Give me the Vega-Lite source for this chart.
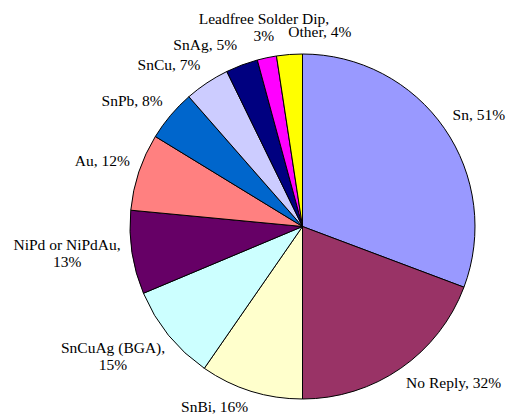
{
  "$schema": "https://vega.github.io/schema/vega-lite/v6.json",
  "width": 407,
  "height": 385,
  "autosize": {"type": "none"},
  "padding": {"left": 99, "top": 34, "right": 0, "bottom": 0},
  "background": "white",
  "data": {
    "values": [
      {"name": "Sn", "value": 51, "label": "Sn, 51%"},
      {"name": "No Reply", "value": 32, "label": "No Reply, 32%"},
      {"name": "SnBi", "value": 16, "label": "SnBi, 16%"},
      {"name": "SnCuAg (BGA)", "value": 15, "label": "SnCuAg (BGA),\n15%"},
      {"name": "NiPd or NiPdAu", "value": 13, "label": "NiPd or NiPdAu,\n13%"},
      {"name": "Au", "value": 12, "label": "Au, 12%"},
      {"name": "SnPb", "value": 8, "label": "SnPb, 8%"},
      {"name": "SnCu", "value": 7, "label": "SnCu, 7%"},
      {"name": "SnAg", "value": 5, "label": "SnAg, 5%"},
      {"name": "Leadfree Solder Dip", "value": 3, "label": "Leadfree Solder Dip,\n3%"},
      {"name": "Other", "value": 4, "label": "Other, 4%"}
    ]
  },
  "transform": [
    {"window": [{"op": "row_number", "as": "idx"}]},
    {"stack": "value", "groupby": [], "sort": [{"field": "idx", "order": "ascending"}], "as": ["v0", "v1"]},
    {"joinaggregate": [{"op": "sum", "field": "value", "as": "total"}]},
    {"calculate": "(datum.v0 + datum.v1) / 2", "as": "mid"},
    {"calculate": "2 * PI * datum.mid / datum.total", "as": "ang"},
    {"calculate": "indexof(datum.label, '\\n')", "as": "brk"}
  ],
  "layer": [
    {
      "mark": {"type": "arc", "outerRadius": 172.5, "stroke": "black", "strokeWidth": 1},
      "encoding": {
        "theta": {"field": "value", "type": "quantitative", "stack": true},
        "order": {"field": "idx", "type": "quantitative"},
        "color": {
          "field": "name",
          "type": "nominal",
          "legend": null,
          "scale": {
            "domain": ["Sn", "No Reply", "SnBi", "SnCuAg (BGA)", "NiPd or NiPdAu", "Au", "SnPb", "SnCu", "SnAg", "Leadfree Solder Dip", "Other"],
            "range": ["#9999FF", "#993366", "#FFFFCC", "#CCFFFF", "#660066", "#FF8080", "#0066CC", "#CCCCFF", "#000080", "#FF00FF", "#FFFF00"]
          }
        }
      }
    },
    {
      "mark": {
        "type": "text",
        "radius": {"expr": "182 + 5 * pow(max(0, cos(datum.ang)), 4)"},
        "font": "'Liberation Serif', 'Times New Roman', serif",
        "fontSize": 15.5,
        "lineHeight": 17,
        "lineBreak": "\n",
        "color": "black",
        "align": {"expr": "sin(datum.ang) > -0.1 ? 'left' : (sin(datum.ang) > -0.25 || datum.brk > 0 ? 'center' : 'right')"},
        "dx": {"expr": "sin(datum.ang) <= -0.25 && datum.brk > 0 ? -datum.brk * 3.7 : 0"},
        "dy": {"expr": "datum.brk > 0 ? (cos(datum.ang) > 0.3 ? -17 : (cos(datum.ang) < -0.5 ? 0 : -8.5)) : 0"},
        "baseline": {"expr": "cos(datum.ang) > 0.3 ? 'bottom' : (cos(datum.ang) < -0.5 ? 'top' : 'middle')"}
      },
      "encoding": {
        "theta": {"field": "mid", "type": "quantitative", "stack": null},
        "text": {"field": "label", "type": "nominal"}
      }
    }
  ]
}
